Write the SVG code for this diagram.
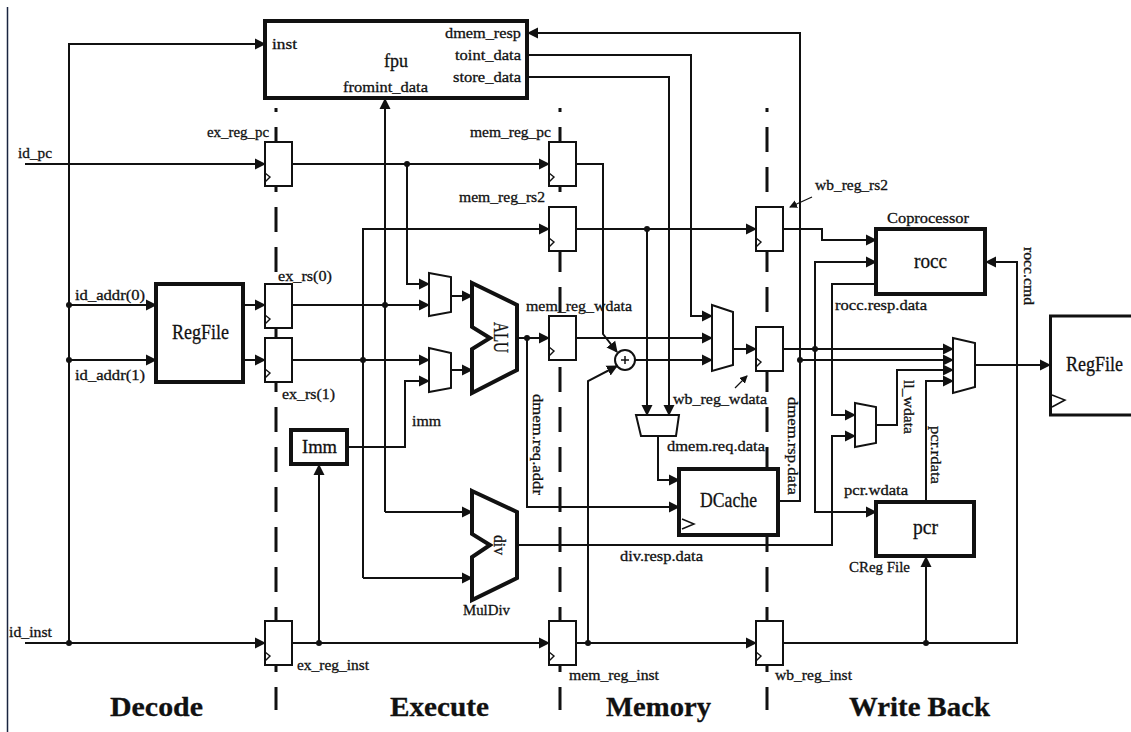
<svg xmlns="http://www.w3.org/2000/svg" width="1131" height="732" viewBox="0 0 1131 732">
<style>
text{font-family:"Liberation Serif","DejaVu Serif",serif;font-size:15.500px;fill:#111;stroke:#111;stroke-width:.3}
.stage{font-size:28px;font-weight:bold}
.w{fill:none;stroke:#111;stroke-width:2;stroke-linejoin:miter}
.a{marker-end:url(#ah)}
.thin{fill:none;stroke:#111;stroke-width:1.3}
.stagebar{stroke:#111;stroke-width:3;fill:none;stroke-dasharray:25 15}
.heavy{fill:#fff;stroke:#111;stroke-width:4;stroke-linejoin:miter}
.mux{fill:#fff;stroke:#111;stroke-width:2;stroke-linejoin:miter}
.ff{fill:#fff;stroke:#111;stroke-width:2}
.ck{fill:none;stroke:#111;stroke-width:1.4}
.d{fill:#111}
</style>
<defs>
<marker id="ah" markerUnits="userSpaceOnUse" markerWidth="12" markerHeight="12" refX="10" refY="6" orient="auto"><path d="M0 .5L11 6L0 11.500Z" fill="#111"/></marker>
<marker id="as" markerUnits="userSpaceOnUse" markerWidth="10" markerHeight="10" refX="7" refY="4" orient="auto"><path d="M0 0L8 4L0 8Z" fill="#111"/></marker>
<g id="reg"><rect class="ff" x="0" y="0" width="27" height="44"/><path class="ck" d="M0 31L5 35L0 40"/></g>
</defs>
<rect width="1131" height="732" fill="#fff"/>
<path d="M7.500 7V732" stroke="#1a2540" stroke-width="1.500"/>

<g id="stage-bars">
<path class="stagebar" d="M276 108V112M276 127V710M560 108V112M560 127V710M767 108V112M767 127V710"/>
</g>

<g id="connectors">
<path class="w a" d="M69 643V44H265"/>
<path class="w a" d="M25 164H265"/>
<path class="w a" d="M25 643H265"/>
<path class="w a" d="M69 305H156"/>
<path class="w a" d="M69 360H156"/>
<path class="w a" d="M244 305H265"/>
<path class="w a" d="M244 360H265"/>
<path class="w a" d="M292 164H549"/>
<path class="w a" d="M407 164V284H429"/>
<path class="w a" d="M292 305H429"/>
<path class="w a" d="M385 512V99"/>
<path class="w a" d="M385 512H472"/>
<path class="w a" d="M292 360H429"/>
<path class="w a" d="M363 578V229H549"/>
<path class="w a" d="M363 578H472"/>
<path class="w a" d="M347 447H405V381H429"/>
<path class="w a" d="M451 296H472"/>
<path class="w a" d="M451 370H472"/>
<path class="w a" d="M319 643V465"/>
<path class="w a" d="M292 643H549"/>
<path class="w a" d="M575 643H756"/>
<path class="w a" d="M588 643V381L617 366"/>
<path class="w a" d="M575 164H603V334L617 352"/>
<path class="w a" d="M635 360H712"/>
<path class="w a" d="M575 338H712"/>
<path class="w a" d="M517 338H549"/>
<path class="w a" d="M527 338V507H679"/>
<path class="w a" d="M527 55H691V316H712"/>
<path class="w a" d="M527 77H669V415"/>
<path class="w a" d="M779 501H800V33H528"/>
<path class="w a" d="M733 349H756"/>
<path class="w a" d="M575 229H756"/>
<path class="w a" d="M647 229V415"/>
<path class="w a" d="M658 436V480H679"/>
<path class="w a" d="M782 229H822V240H876"/>
<path class="w a" d="M782 349H953"/>
<path class="w a" d="M800 360H953"/>
<path class="w a" d="M815 349V262H876"/>
<path class="w a" d="M815 349V512H876"/>
<path class="w a" d="M876 284H832V415H855"/>
<path class="w a" d="M517 545H832V436H855"/>
<path class="w a" d="M876 425H897V370H953"/>
<path class="w a" d="M926 502V381H953"/>
<path class="w a" d="M975 365H1050"/>
<path class="w a" d="M782 643H1017V262H986"/>
<path class="w a" d="M926 643V557"/>
<path class="thin" d="M812 197L790 207" marker-end="url(#as)"/>
<path class="thin" d="M735 388L747 376" marker-end="url(#as)"/>
<circle class="d" cx="69" cy="305" r="3"/><circle class="d" cx="69" cy="360" r="3"/><circle class="d" cx="69" cy="643" r="3"/>
<circle class="d" cx="407" cy="164" r="3"/><circle class="d" cx="385" cy="305" r="3"/><circle class="d" cx="363" cy="360" r="3"/>
<circle class="d" cx="319" cy="643" r="3"/><circle class="d" cx="588" cy="643" r="3"/><circle class="d" cx="527" cy="338" r="3"/>
<circle class="d" cx="647" cy="229" r="3"/><circle class="d" cx="815" cy="349" r="3"/><circle class="d" cx="800" cy="360" r="3"/>
<circle class="d" cx="926" cy="643" r="3"/>
</g>

<g id="fpu">
<rect class="heavy" x="265" y="21" width="262" height="77"/>
<text x="272" y="49" textLength="25" lengthAdjust="spacingAndGlyphs">inst</text>
<text x="384" y="67" textLength="24" lengthAdjust="spacingAndGlyphs" style="font-size:19px">fpu</text>
<text x="343" y="92" textLength="85" lengthAdjust="spacingAndGlyphs">fromint_data</text>
<text x="445" y="38" textLength="76" lengthAdjust="spacingAndGlyphs">dmem_resp</text>
<text x="455" y="60" textLength="66" lengthAdjust="spacingAndGlyphs">toint_data</text>
<text x="453" y="82" textLength="68" lengthAdjust="spacingAndGlyphs">store_data</text>
</g>
<g id="regfile-decode">
<rect class="heavy" x="156" y="284" width="87" height="98"/>
<text x="172" y="339" textLength="57" lengthAdjust="spacingAndGlyphs" style="font-size:21px">RegFile</text>
</g>
<g id="ex_reg_pc"><use href="#reg" x="265" y="142"/><text x="207" y="137" textLength="62" lengthAdjust="spacingAndGlyphs">ex_reg_pc</text></g>
<g id="ex_rs0"><use href="#reg" x="265" y="284"/><text x="278" y="281" textLength="54" lengthAdjust="spacingAndGlyphs">ex_rs(0)</text></g>
<g id="ex_rs1"><use href="#reg" x="265" y="338"/><text x="282" y="399" textLength="53" lengthAdjust="spacingAndGlyphs">ex_rs(1)</text></g>
<g id="ex_reg_inst"><use href="#reg" x="265" y="621"/><text x="297" y="670" textLength="72" lengthAdjust="spacingAndGlyphs">ex_reg_inst</text></g>
<g id="mem_reg_pc"><use href="#reg" x="549" y="142"/><text x="470" y="137" textLength="81" lengthAdjust="spacingAndGlyphs">mem_reg_pc</text></g>
<g id="mem_reg_rs2"><use href="#reg" x="549" y="207"/><text x="459" y="202" textLength="86" lengthAdjust="spacingAndGlyphs">mem_reg_rs2</text></g>
<g id="mem_reg_wdata"><use href="#reg" x="549" y="316"/><text x="526" y="311" textLength="106" lengthAdjust="spacingAndGlyphs">mem_reg_wdata</text></g>
<g id="mem_reg_inst"><use href="#reg" x="549" y="621"/><text x="569" y="680" textLength="90" lengthAdjust="spacingAndGlyphs">mem_reg_inst</text></g>
<g id="wb_reg_rs2"><use href="#reg" x="756" y="207"/><text x="815" y="190" textLength="73" lengthAdjust="spacingAndGlyphs">wb_reg_rs2</text></g>
<g id="wb_reg_wdata"><use href="#reg" x="756" y="327"/><text x="673" y="404" textLength="94" lengthAdjust="spacingAndGlyphs">wb_reg_wdata</text></g>
<g id="wb_reg_inst"><use href="#reg" x="756" y="621"/><text x="775" y="680" textLength="77" lengthAdjust="spacingAndGlyphs">wb_reg_inst</text></g>
<g id="mux-a"><path class="mux" d="M429 273L451 277V312L429 316Z"/></g>
<g id="mux-b"><path class="mux" d="M429 348L451 353V388L429 392Z"/></g>
<g id="mux-wb"><path class="mux" d="M712 305L733 312V365L712 371Z"/></g>
<g id="mux-store"><path class="mux" d="M636 415H679L676 436H641Z"/></g>
<g id="mux-ll"><path class="mux" d="M855 403L876 407V443L855 447Z"/></g>
<g id="mux-out"><path class="mux" d="M953 338L975 343V387L953 393Z"/></g>
<g id="alu">
<path class="heavy" d="M472 283L517 305V370L472 393V349L490 338L472 327Z"/>
<text transform="translate(494 322) rotate(90)" textLength="31" lengthAdjust="spacingAndGlyphs" style="font-size:20px">ALU</text>
</g>
<g id="adder">
<circle cx="625" cy="360" r="10" fill="#fff" stroke="#111" stroke-width="2"/>
<path d="M621 360H629M625 356V364" stroke="#111" stroke-width="1.500" fill="none"/>
</g>
<g id="imm">
<rect class="heavy" x="291" y="430" width="56" height="34"/>
<text x="302" y="453" textLength="35" lengthAdjust="spacingAndGlyphs" style="font-size:18px">Imm</text>
</g>
<g id="muldiv">
<path class="heavy" d="M472 491L517 512V578L472 600V557L490 545L472 534Z"/>
<text transform="translate(494 535) rotate(90)" textLength="20" lengthAdjust="spacingAndGlyphs" style="font-size:16px">div</text>
<text x="463" y="615" textLength="47" lengthAdjust="spacingAndGlyphs">MulDiv</text>
</g>
<g id="dcache">
<rect class="heavy" x="679" y="469" width="99" height="66"/>
<path d="M682 519L694 524L682 529" fill="none" stroke="#111" stroke-width="1.500"/>
<text x="700" y="507" textLength="57" lengthAdjust="spacingAndGlyphs" style="font-size:21px">DCache</text>
</g>
<g id="rocc">
<rect class="heavy" x="876" y="229" width="109" height="65"/>
<text x="914" y="268" textLength="33" lengthAdjust="spacingAndGlyphs" style="font-size:21px">rocc</text>
<text x="887" y="223" textLength="82" lengthAdjust="spacingAndGlyphs">Coprocessor</text>
</g>
<g id="pcr">
<rect class="heavy" x="876" y="502" width="98" height="54"/>
<text x="913" y="534" textLength="25" lengthAdjust="spacingAndGlyphs" style="font-size:21px">pcr</text>
<text x="849" y="572" textLength="61" lengthAdjust="spacingAndGlyphs">CReg File</text>
</g>
<g id="regfile-wb">
<path d="M1133 316H1050.500V415H1133" fill="#fff" stroke="#111" stroke-width="3"/>
<path d="M1052 395L1065 400L1052 407" fill="none" stroke="#111" stroke-width="1.500"/>
<text x="1066" y="371" textLength="57" lengthAdjust="spacingAndGlyphs" style="font-size:21px">RegFile</text>
</g>
<g id="labels">
<text x="18" y="158" textLength="34" lengthAdjust="spacingAndGlyphs">id_pc</text>
<text x="75" y="300" textLength="70" lengthAdjust="spacingAndGlyphs">id_addr(0)</text>
<text x="75" y="380" textLength="70" lengthAdjust="spacingAndGlyphs">id_addr(1)</text>
<text x="9" y="637" textLength="43" lengthAdjust="spacingAndGlyphs">id_inst</text>
<text x="412" y="426" textLength="29" lengthAdjust="spacingAndGlyphs">imm</text>
<text x="620" y="561" textLength="83" lengthAdjust="spacingAndGlyphs">div.resp.data</text>
<text x="667" y="451" textLength="98" lengthAdjust="spacingAndGlyphs">dmem.req.data</text>
<text x="835" y="310" textLength="92" lengthAdjust="spacingAndGlyphs">rocc.resp.data</text>
<text x="844" y="495" textLength="64" lengthAdjust="spacingAndGlyphs">pcr.wdata</text>
<text transform="translate(533 394) rotate(90)" textLength="101" lengthAdjust="spacingAndGlyphs">dmem.req.addr</text>
<text transform="translate(788 397) rotate(90)" textLength="98" lengthAdjust="spacingAndGlyphs">dmem.rsp.data</text>
<text transform="translate(904 380) rotate(90)" textLength="54" lengthAdjust="spacingAndGlyphs">ll_wdata</text>
<text transform="translate(931 426) rotate(90)" textLength="58" lengthAdjust="spacingAndGlyphs">pcr.rdata</text>
<text transform="translate(1024 247) rotate(90)" textLength="58" lengthAdjust="spacingAndGlyphs">rocc.cmd</text>
<text class="stage" x="110" y="716" textLength="93" lengthAdjust="spacingAndGlyphs">Decode</text>
<text class="stage" x="390" y="716" textLength="99" lengthAdjust="spacingAndGlyphs">Execute</text>
<text class="stage" x="606" y="716" textLength="105" lengthAdjust="spacingAndGlyphs">Memory</text>
<text class="stage" x="849" y="716" textLength="141" lengthAdjust="spacingAndGlyphs">Write Back</text>
</g>
</svg>
